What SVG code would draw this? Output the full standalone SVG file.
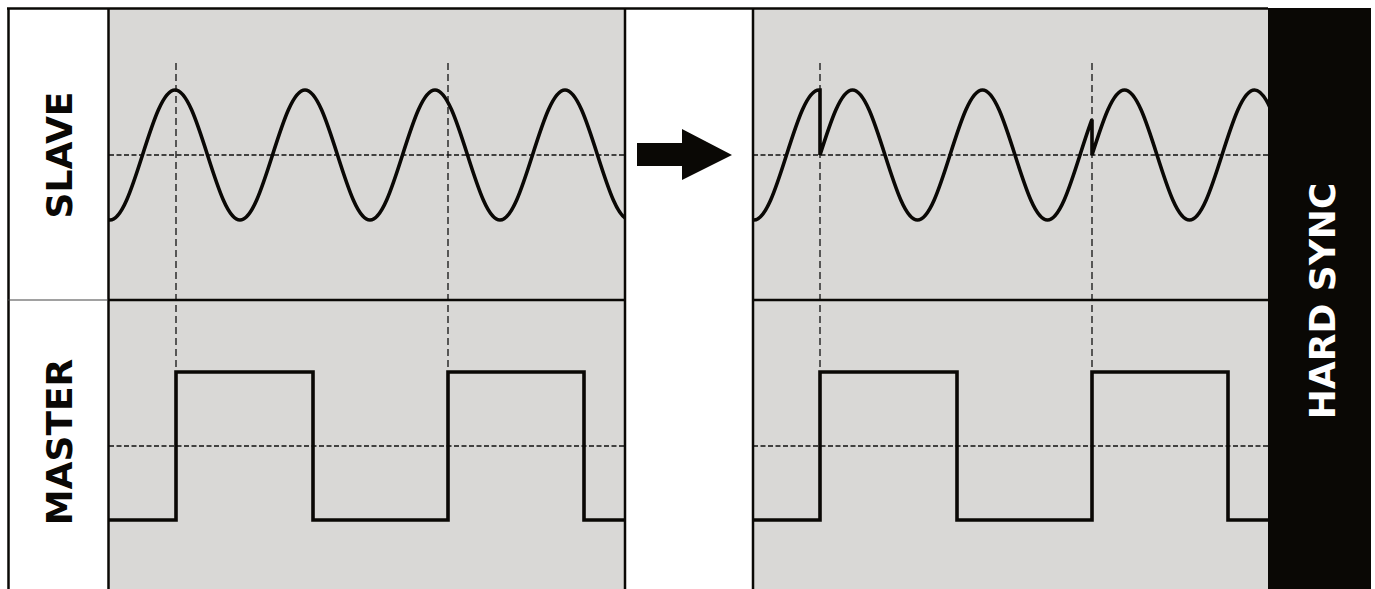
<svg xmlns="http://www.w3.org/2000/svg" width="1375" height="589" viewBox="0 0 1375 589">
<style>
.bg{fill:#d9d8d6}
.border{stroke:#0a0805;stroke-width:2.5;fill:none}
.thin{stroke:#444;stroke-width:1.2;fill:none}
.dash{stroke:#111;stroke-width:1.3;fill:none}
.dv{stroke-dasharray:7,4}
.dh{stroke-dasharray:5,2.5}
.wave{stroke:#0a0805;stroke-width:3.6;fill:none;stroke-linejoin:miter;stroke-linecap:butt}
.lbl{font-family:"DejaVu Sans",Verdana,sans-serif;font-weight:bold;font-size:36px;text-anchor:middle}
</style>
<defs>
<clipPath id="cl"><rect x="109" y="8" width="516" height="292"/></clipPath>
<clipPath id="cr"><rect x="753" y="8" width="515" height="292"/></clipPath>
</defs>
<rect x="0" y="0" width="1375" height="589" fill="#fff"/>

<g id="panel-left">
<rect class="bg" x="108" y="8" width="517" height="581"/>
<g class="dash">
<line class="dv" x1="176" y1="63" x2="176" y2="372"/>
<line class="dv" x1="448" y1="63" x2="448" y2="372"/>
<line class="dh" x1="109" y1="155" x2="625" y2="155"/>
<line class="dh" x1="109" y1="446" x2="625" y2="446"/>
</g>
<path class="wave" clip-path="url(#cl)" d="M12.5,155
c10.6,-33.3 20.74,-65 32.5,-65 c11.76,0 21.9,31.7 32.5,65 c10.6,33.3 20.74,65 32.5,65 c11.76,0 21.9,-31.7 32.5,-65
c10.6,-33.3 20.74,-65 32.5,-65 c11.76,0 21.9,31.7 32.5,65 c10.6,33.3 20.74,65 32.5,65 c11.76,0 21.9,-31.7 32.5,-65
c10.6,-33.3 20.74,-65 32.5,-65 c11.76,0 21.9,31.7 32.5,65 c10.6,33.3 20.74,65 32.5,65 c11.76,0 21.9,-31.7 32.5,-65
c10.6,-33.3 20.74,-65 32.5,-65 c11.76,0 21.9,31.7 32.5,65 c10.6,33.3 20.74,65 32.5,65 c11.76,0 21.9,-31.7 32.5,-65
c10.6,-33.3 20.74,-65 32.5,-65 c11.76,0 21.9,31.7 32.5,65 c10.6,33.3 20.74,65 32.5,65 c11.76,0 21.9,-31.7 32.5,-65
c10.6,-33.3 20.74,-65 32.5,-65 c11.76,0 21.9,31.7 32.5,65 c10.6,33.3 20.74,65 32.5,65 c11.76,0 21.9,-31.7 32.5,-65"/>
<path class="wave" d="M109,520 H176 V372 H313 V520 H448 V372 H584 V520 H625"/>
</g>

<g id="panel-right">
<rect class="bg" x="753" y="8" width="515" height="581"/>
<g class="dash">
<line class="dv" x1="820" y1="63" x2="820" y2="372"/>
<line class="dv" x1="1092" y1="63" x2="1092" y2="372"/>
<line class="dh" x1="753" y1="155" x2="1268" y2="155"/>
<line class="dh" x1="753" y1="446" x2="1268" y2="446"/>
</g>
<path class="wave" clip-path="url(#cr)" d="M656.5,155
c10.6,-33.3 20.74,-65 32.5,-65 c11.76,0 21.9,31.7 32.5,65 c10.6,33.3 20.74,65 32.5,65 c11.76,0 21.9,-31.7 32.5,-65
c10.6,-33.3 20.74,-65 32.5,-65 l1,0 L820,155
c10.6,-33.3 20.74,-65 32.5,-65 c11.76,0 21.9,31.7 32.5,65 c10.6,33.3 20.74,65 32.5,65 c11.76,0 21.9,-31.7 32.5,-65
c10.6,-33.3 20.74,-65 32.5,-65 c11.76,0 21.9,31.7 32.5,65 c10.6,33.3 20.74,65 32.5,65 c11.76,0 21.9,-31.7 32.5,-65
c4,-12.56 8,-25.08 12,-35.6 L1092,155
c10.6,-33.3 20.74,-65 32.5,-65 c11.76,0 21.9,31.7 32.5,65 c10.6,33.3 20.74,65 32.5,65 c11.76,0 21.9,-31.7 32.5,-65
c10.6,-33.3 20.74,-65 32.5,-65 c11.76,0 21.9,31.7 32.5,65"/>
<path class="wave" d="M753,520 H820 V372 H957 V520 H1092 V372 H1228 V520 H1268"/>
</g>

<g id="frame">
<line class="border" x1="7" y1="8.5" x2="1268" y2="8.5"/>
<line class="border" x1="8.5" y1="8" x2="8.5" y2="589"/>
<line class="border" x1="108.5" y1="8" x2="108.5" y2="589"/>
<line class="border" x1="625" y1="8" x2="625" y2="589"/>
<line class="border" x1="753" y1="8" x2="753" y2="589"/>
<line class="thin" x1="8" y1="300" x2="108" y2="300"/>
<line class="border" x1="108" y1="300" x2="625" y2="300"/>
<line class="border" x1="753" y1="300" x2="1268" y2="300"/>
</g>

<g id="label-slave"><text class="lbl" fill="#0a0805" transform="translate(72,155) rotate(-90)">SLAVE</text></g>
<g id="label-master"><text class="lbl" fill="#0a0805" transform="translate(72,442) rotate(-90)">MASTER</text></g>

<g id="arrow"><polygon points="637,143 682,143 682,129 732,155 682,180 682,166 637,166" fill="#0a0805"/></g>

<g id="hard-sync">
<rect x="1268" y="8" width="103" height="581" fill="#0a0805"/>
<text class="lbl" fill="#ffffff" transform="translate(1335,301) rotate(-90)">HARD SYNC</text>
</g>
</svg>
